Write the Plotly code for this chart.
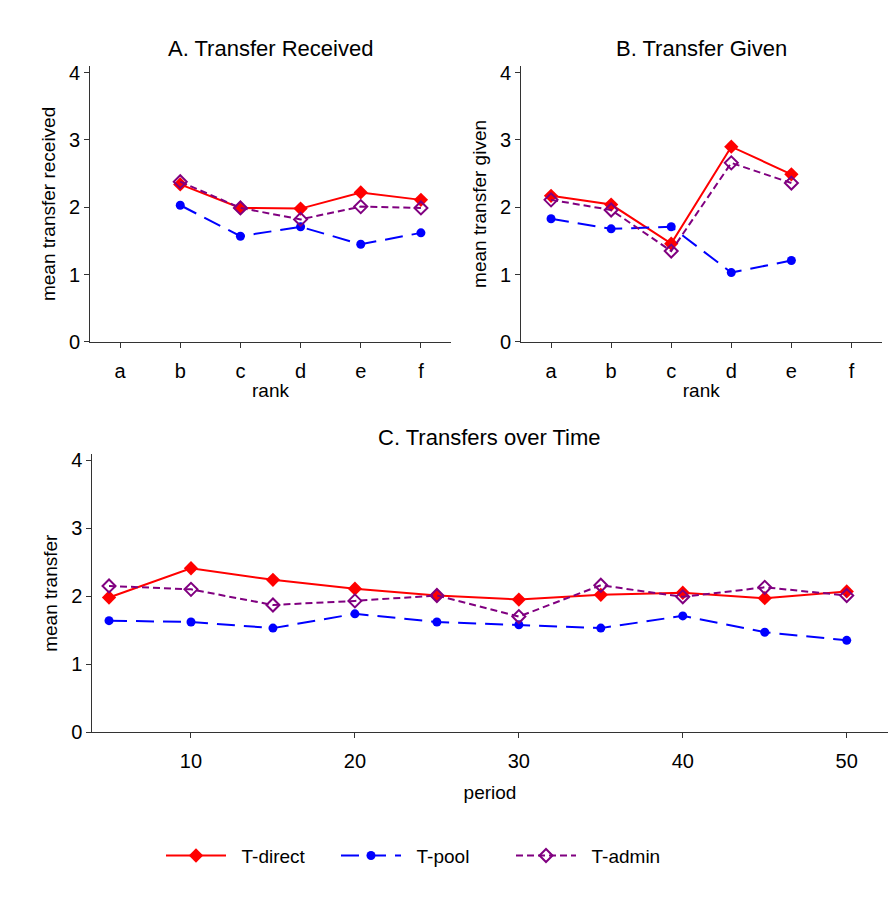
import plotly.graph_objects as go

# ---- data ----
ranks = ["a", "b", "c", "d", "e", "f"]

recv_direct = [None, 2.34, 1.99, 1.98, 2.22, 2.11]
recv_pool = [None, 2.03, 1.57, 1.71, 1.45, 1.62]
recv_admin = [None, 2.38, 1.99, 1.82, 2.01, 1.99]

given_direct = [2.17, 2.04, 1.46, 2.90, 2.49, None]
given_pool = [1.83, 1.68, 1.71, 1.03, 1.21, None]
given_admin = [2.11, 1.96, 1.35, 2.66, 2.36, None]

periods = [5, 10, 15, 20, 25, 30, 35, 40, 45, 50]
time_direct = [1.98, 2.41, 2.24, 2.11, 2.01, 1.95, 2.02, 2.05, 1.97, 2.07]
time_pool = [1.64, 1.62, 1.53, 1.74, 1.62, 1.58, 1.53, 1.71, 1.47, 1.35]
time_admin = [2.15, 2.10, 1.87, 1.93, 2.01, 1.70, 2.16, 1.99, 2.13, 2.01]

series_names = ["T-direct", "T-pool", "T-admin"]

# ---- styles ----
FONT = "Liberation Sans, Arial, sans-serif"
styles = {
    "T-direct": dict(line=dict(color="#FF0000", width=2, dash="solid"),
                     marker=dict(symbol="diamond", size=11, color="#FF0000")),
    "T-pool": dict(line=dict(color="#0000FF", width=2, dash="18px,9px"),
                   marker=dict(symbol="circle", size=9, color="#0000FF")),
    "T-admin": dict(line=dict(color="#800080", width=2, dash="7px,4px"),
                    marker=dict(symbol="diamond-open", size=10, color="#800080",
                                line=dict(width=2, color="#800080"))),
}

W, H = 894, 903
fig = go.Figure()

panels = [
    ("x", "y", ranks, [recv_direct, recv_pool, recv_admin]),
    ("x2", "y2", ranks, [given_direct, given_pool, given_admin]),
    ("x3", "y3", periods, [time_direct, time_pool, time_admin]),
]
for pi, (xa, ya, xs, ys_list) in enumerate(panels):
    for name, ys in zip(series_names, ys_list):
        st = styles[name]
        fig.add_trace(go.Scatter(
            x=xs, y=ys, mode="lines+markers", name="\u00a0\u00a0" + name,
            xaxis=xa, yaxis=ya, line=st["line"], marker=st["marker"],
            showlegend=(pi == 2), connectgaps=False,
        ))

def px_x(v):
    return v / W

def px_y(v):
    return 1 - v / H

TICK_SIZE = 20
TITLE_SIZE = 19

axis_common = dict(
    showline=True, linecolor="#333333", linewidth=1, showgrid=False, zeroline=False,
    ticks="outside", ticklen=5, tickcolor="#333333",
    tickfont=dict(family=FONT, size=TICK_SIZE, color="black"),
)
xaxis_common = dict(axis_common, ticklabelstandoff=6)
yaxis_common = dict(axis_common, range=[0, 4.1], tickvals=[0, 1, 2, 3, 4])

fig.update_layout(
    width=W, height=H,
    margin=dict(l=0, r=0, t=0, b=0),
    paper_bgcolor="white", plot_bgcolor="white",
    font=dict(family=FONT, color="black"),
    xaxis=dict(xaxis_common, domain=[px_x(90), px_x(451)], anchor="y",
               type="category", categoryorder="array", categoryarray=ranks,
               range=[-0.5, 5.5],
               title=dict(text="rank", font=dict(size=TITLE_SIZE), standoff=2)),
    yaxis=dict(yaxis_common, domain=[px_y(343), px_y(62)], anchor="x",
               title=dict(text="mean transfer received", font=dict(size=TITLE_SIZE), standoff=8)),
    xaxis2=dict(xaxis_common, domain=[px_x(521), px_x(881.5)], anchor="y2",
                type="category", categoryorder="array", categoryarray=ranks,
                range=[-0.5, 5.5],
                title=dict(text="rank", font=dict(size=TITLE_SIZE), standoff=2)),
    yaxis2=dict(yaxis_common, domain=[px_y(343), px_y(62)], anchor="x2",
                title=dict(text="mean transfer given", font=dict(size=TITLE_SIZE), standoff=8)),
    xaxis3=dict(xaxis_common, domain=[px_x(92.3), px_x(887.7)], anchor="y3",
                range=[3.98, 52.5], tickvals=[10, 20, 30, 40, 50],
                title=dict(text="period", font=dict(size=TITLE_SIZE), standoff=14)),
    yaxis3=dict(axis_common, domain=[px_y(740.3), px_y(457.3)], anchor="x3",
                range=[0, 4.087], tickvals=[0, 1, 2, 3, 4],
                title=dict(text="mean transfer", font=dict(size=TITLE_SIZE), standoff=8)),
    legend=dict(orientation="h", x=px_x(161), xanchor="left", y=px_y(866), yanchor="middle",
                font=dict(family=FONT, size=TITLE_SIZE, color="black"),
                itemwidth=60, entrywidth=100, entrywidthmode="pixels",
                bgcolor="rgba(0,0,0,0)", tracegroupgap=0),
    annotations=[
        dict(text="A. Transfer Received", x=px_x(270.5), y=px_y(44), xref="paper", yref="paper",
             showarrow=False, font=dict(family=FONT, size=22, color="black"),
             xanchor="center", yanchor="middle"),
        dict(text="B. Transfer Given", x=px_x(701), y=px_y(44), xref="paper", yref="paper",
             showarrow=False, font=dict(family=FONT, size=22, color="black"),
             xanchor="center", yanchor="middle"),
        dict(text="C. Transfers over Time", x=px_x(490), y=px_y(440), xref="paper", yref="paper",
             showarrow=False, font=dict(family=FONT, size=22, color="black"),
             xanchor="center", yanchor="middle"),
    ],
)

fig.write_html("out.html")
